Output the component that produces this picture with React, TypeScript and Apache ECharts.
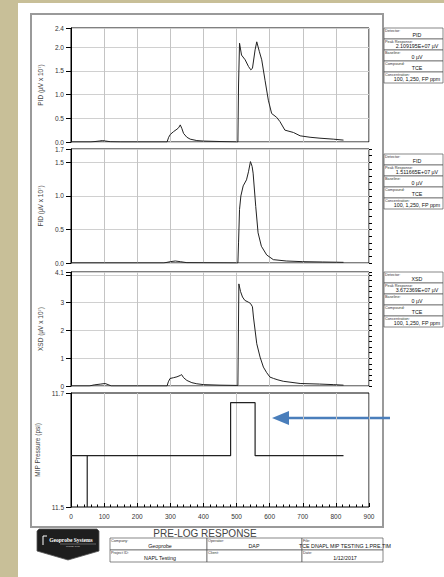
import React, { useEffect, useRef } from 'react';
import * as echarts from 'echarts';

// ---------- data ----------
const pidT = [0, 60, 85, 95, 105, 120, 150, 290, 295, 300, 310, 320, 325, 330, 335, 340, 350, 360, 380, 400, 450, 504, 506, 509, 515, 526, 536, 543, 548, 556, 561, 569, 576, 586, 596, 606, 621, 631, 646, 672, 692, 722, 752, 792, 823];
const pidV = [0, 0, 0.02, 0.03, 0.02, 0.005, 0, 0, 0.1, 0.16, 0.22, 0.27, 0.3, 0.36, 0.28, 0.18, 0.1, 0.06, 0.03, 0.02, 0.01, 0.0, 1.2, 2.08, 1.83, 1.73, 1.59, 1.52, 1.55, 1.94, 2.109, 1.9, 1.73, 1.3, 0.88, 0.6, 0.52, 0.43, 0.25, 0.2, 0.13, 0.1, 0.08, 0.06, 0.04];

const fidT = [0, 280, 300, 315, 330, 350, 504, 506, 509, 513, 520, 530, 536, 542, 547, 550, 558, 565, 575, 591, 611, 650, 700, 760, 823];
const fidV = [0, 0, 0.02, 0.03, 0.02, 0.005, 0, 0.3, 0.8, 1.0, 1.15, 1.24, 1.36, 1.512, 1.44, 1.34, 0.84, 0.45, 0.25, 0.12, 0.05, 0.03, 0.02, 0.015, 0.01];

const xsdT = [0, 55, 70, 90, 103, 112, 122, 290, 294, 299, 310, 320, 330, 334, 340, 350, 365, 380, 400, 450, 504, 507, 512, 518, 525, 535, 542, 548, 551, 561, 571, 581, 591, 601, 612, 625, 641, 692, 750, 792, 823];
const xsdV = [0, 0, 0.04, 0.07, 0.09, 0.05, 0, 0, 0.15, 0.27, 0.3, 0.33, 0.38, 0.41, 0.3, 0.2, 0.12, 0.08, 0.05, 0.03, 0.02, 3.672, 3.4, 3.2, 3.08, 3.02, 2.97, 2.85, 2.48, 1.52, 1.04, 0.68, 0.48, 0.32, 0.27, 0.22, 0.17, 0.09, 0.07, 0.05, 0.03];

const mipT = [0, 49, 49, 49, 482, 482, 556, 556, 823];
const mipV = [11.59, 11.59, 11.5, 11.59, 11.59, 11.683, 11.683, 11.59, 11.59];

const axisNames = ['PID (µV x 10⁷)', 'FID (µV x 10⁷)', 'XSD (µV x 10⁷)', 'MIP Pressure (psi)'];
const yMax = [2.4, 1.7, 4.1, 11.7];
const yMin = [0, 0, 0, 11.5];
const yInterval = [0.5, 0.5, 1, 0.2];
const xTicks = [0, 100, 200, 300, 400, 500, 600, 700, 800, 900];

const detectors = ['PID', 'FID', 'XSD'];
const peakResponses = ['2.109195E+07 µV', '1.511665E+07 µV', '3.672369E+07 µV'];
const boxLabels = ['Detector:', 'Peak Response:', 'Baseline:', 'Compound:', 'Concentration:'];
const baselineText = '0 µV';
const compoundText = 'TCE';
const concentrationText = '100, 1,250, FP ppm';

const footerTitle = 'PRE-LOG RESPONSE';
const footerLabels = [['Company:', 'Operator:', 'File:'], ['Project ID:', 'Client:', 'Date:']];
const footerValues = [['Geoprobe', 'DAP', 'TCE DNAPL MIP TESTING 1.PRE.TIM'], ['NAPL Testing', '', '1/12/2017']];

const FF = 'Liberation Sans, Arial, sans-serif';

const zip = (t: number[], v: number[]) => t.map((x, i) => [x, v[i]]);

export default function App() {
  const ref = useRef<HTMLDivElement>(null);
  useEffect(() => {
    if (!ref.current) return;
    const chart = echarts.init(ref.current, undefined, { renderer: 'svg' });
    const gridTops = [28, 149, 272, 393];
    const grids = gridTops.map((top) => ({
      left: 71, width: 298, top, height: 114, show: true,
      borderColor: '#000', borderWidth: 1, backgroundColor: 'transparent',
    }));
    const xAxes = gridTops.map((_, i) => {
      const last = i === 3;
      return {
        type: 'value', gridIndex: i, min: xTicks[0], max: xTicks[xTicks.length - 1], interval: 100,
        axisLine: { show: false },
        axisTick: { show: last, inside: true, length: 4, lineStyle: { color: '#000' } },
        minorTick: { show: last, splitNumber: 5, length: 2.5, lineStyle: { color: '#000' } },
        axisLabel: { show: last, fontSize: 6.5, color: '#333', margin: 6, fontFamily: FF },
        splitLine: { show: true, lineStyle: { color: '#c4c4c4', width: 1 } },
      };
    });
    const fmt = [
      (v: number) => v.toFixed(1),
      (v: number) => v.toFixed(1),
      (v: number) => (Math.abs(v - 4) < 1e-6 ? '' : Math.abs(v - 4.1) < 1e-6 ? '4.1' : String(Math.round(v))),
      (v: number) => v.toFixed(1),
    ];
    const yAxes: any[] = gridTops.map((_, i) => {
      const base: any = {
        type: 'value', gridIndex: i, min: yMin[i], max: yMax[i],
        name: axisNames[i], nameLocation: 'middle', nameGap: 27,
        nameTextStyle: { fontSize: 6.5, color: '#444', fontFamily: FF },
        axisLine: { show: true, lineStyle: { color: '#000' } },
        axisTick: { show: true, length: 5, lineStyle: { color: '#000' } },
        axisLabel: { fontSize: 6.5, color: '#333', margin: 7, fontFamily: FF, formatter: fmt[i], showMaxLabel: true, showMinLabel: true },
        splitLine: { show: i !== 3, lineStyle: { color: '#d0d0d0', width: 1 } },
      };
      if (i === 3) {
        base.axisLabel.customValues = [11.5, 11.7];
        base.axisTick.customValues = [11.5, 11.7];
      } else {
        base.interval = yInterval[i];
      }
      return base;
    });
    // minor tick overlays for FID and XSD
    const minorAxis = (gi: number, interval: number) => ({
      type: 'value', gridIndex: gi, min: yMin[gi], max: yMax[gi], interval,
      axisLine: { show: false }, axisLabel: { show: false }, splitLine: { show: false },
      axisTick: { show: true, length: 3, lineStyle: { color: '#000' } },
    });
    yAxes.push(minorAxis(1, 0.1));
    yAxes.push(minorAxis(2, 0.2));

    const mk = (i: number, data: number[][], w = 1) => ({
      type: 'line', xAxisIndex: i, yAxisIndex: i, data, showSymbol: false, symbol: 'none',
      lineStyle: { color: '#222', width: w }, silent: true,
    });

    const g: any[] = [];
    g.push({ type: 'rect', shape: { x: 0, y: 0, width: 18, height: 577 }, style: { fill: '#c8bf98' } });
    g.push({ type: 'rect', shape: { x: 0, y: 0, width: 444, height: 3 }, style: { fill: '#c8bf98' } });
    g.push({ type: 'rect', shape: { x: 31, y: 14, width: 352, height: 513 }, style: { fill: 'none', stroke: '#9a9a9a', lineWidth: 2 } });

    const txt = (x: number, y: number, text: string, size: number, align = 'left', va = 'top', fill = '#222', extra: any = {}) => ({
      type: 'text', x, y,
      style: { text, fontSize: size, fontFamily: FF, fill, align, textAlign: align, verticalAlign: va, textVerticalAlign: va, ...extra },
    });

    const boxTops = [28, 154, 272];
    boxTops.forEach((top, bi) => {
      const vals = [detectors[bi], peakResponses[bi], baselineText, compoundText, concentrationText];
      boxLabels.forEach((lab, r) => {
        const y = top + r * 11;
        g.push({ type: 'rect', shape: { x: 384, y, width: 59, height: 11 }, style: { fill: '#fff', stroke: '#555', lineWidth: 0.7 } });
        g.push(txt(385, y + 0.8, lab, 3.8, 'left', 'top', '#333'));
        g.push(txt(417, y + 7.3, vals[r], 5.3, 'center', 'middle', '#111'));
      });
    });

    // footer
    g.push(txt(205, 533, footerTitle, 10, 'center', 'middle', '#444'));
    const colX = [110, 207, 302, 383];
    const rowY = [538, 550, 562];
    const valCx = [160, 254, 345];
    for (let r = 0; r < 2; r++) {
      for (let c = 0; c < 3; c++) {
        g.push({ type: 'rect', shape: { x: colX[c], y: rowY[r], width: colX[c + 1] - colX[c], height: 12 }, style: { fill: '#fff', stroke: '#555', lineWidth: 0.7 } });
        g.push(txt(colX[c] + 1, rowY[r] + 0.8, footerLabels[r][c], 3.8, 'left', 'top', '#333'));
        if (footerValues[r][c]) g.push(txt(valCx[c], rowY[r] + 8, footerValues[r][c], 5.3, 'center', 'middle', '#111'));
      }
    }

    // logo
    g.push({
      type: 'polygon',
      shape: { points: [[39, 529], [97, 529], [99, 531], [99, 551], [68, 560], [37, 551], [37, 531]] },
      style: { fill: '#1e1e1e', stroke: '#555', lineWidth: 0.8 },
    });
    g.push({ type: 'polyline', shape: { points: [[43, 545], [43, 536], [47, 536]] }, style: { stroke: '#fff', lineWidth: 1, fill: 'none' } });
    g.push(txt(71, 539.5, 'Geoprobe Systems', 5.5, 'center', 'middle', '#fff', { fontWeight: 'bold', fontFamily: 'Liberation Serif, serif' }));
    g.push({ type: 'line', shape: { x1: 60, y1: 544, x2: 96, y2: 544 }, style: { stroke: '#aaa', lineWidth: 0.5 } });
    g.push(txt(73, 546.5, 'SINCE 1987', 2.5, 'center', 'middle', '#ccc'));

    // arrow
    g.push({ type: 'line', shape: { x1: 390, y1: 418, x2: 286, y2: 418 }, style: { stroke: '#4a7ebb', lineWidth: 2.5 } });
    g.push({ type: 'polygon', shape: { points: [[272, 418], [289, 411], [289, 425]] }, style: { fill: '#4a7ebb' } });

    chart.setOption({
      animation: false,
      backgroundColor: '#fff',
      textStyle: { fontFamily: FF },
      grid: grids,
      xAxis: xAxes,
      yAxis: yAxes,
      series: [
        mk(0, zip(pidT, pidV)),
        mk(1, zip(fidT, fidV)),
        mk(2, zip(xsdT, xsdV)),
        mk(3, zip(mipT, mipV), 1.2),
      ],
      graphic: { elements: g },
    });
    return () => chart.dispose();
  }, []);
  return <div ref={ref} style={{ position: 'absolute', left: 0, top: 0, width: 444, height: 577 }} />;
}
